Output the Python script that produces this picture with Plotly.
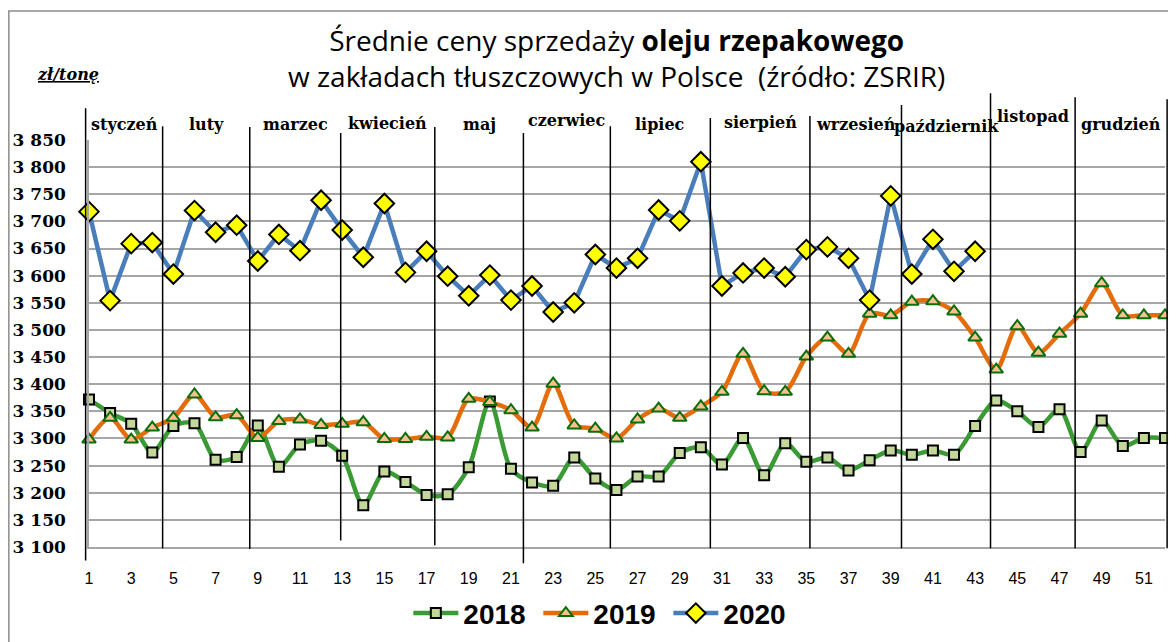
import plotly.graph_objects as go

# ---------------- data ----------------
weeks = list(range(1, 53))
weeks_2020 = list(range(1, 44))

prices_2018 = [3372, 3347, 3327, 3274, 3323, 3328, 3261, 3266, 3324, 3248,
               3289, 3296, 3268, 3177, 3239, 3220, 3196, 3197, 3247, 3368,
               3244, 3219, 3213, 3265, 3226, 3205, 3230, 3230, 3273, 3284,
               3252, 3301, 3232, 3291, 3257, 3265, 3241, 3260, 3278, 3270,
               3278, 3270, 3323, 3370, 3350, 3321, 3354, 3275, 3333, 3286,
               3301, 3301]

prices_2019 = [3298, 3338, 3298, 3320, 3338, 3381, 3339, 3343, 3301, 3332,
               3335, 3325, 3327, 3330, 3299, 3299, 3303, 3302, 3373, 3367,
               3352, 3320, 3401, 3324, 3318, 3300, 3335, 3355, 3338, 3359,
               3386, 3456, 3387, 3386, 3451, 3486, 3456, 3530, 3527, 3552,
               3553, 3534, 3486, 3427, 3507, 3458, 3493, 3530, 3586, 3527,
               3527, 3527]

prices_2020 = [3718, 3554, 3659, 3661, 3603, 3720, 3680, 3693, 3627, 3676,
               3646, 3739, 3684, 3634, 3733, 3606, 3645, 3599, 3563, 3601,
               3555, 3581, 3533, 3550, 3639, 3614, 3632, 3721, 3701, 3810,
               3581, 3605, 3614, 3598, 3648, 3653, 3632, 3555, 3747, 3603,
               3667, 3608, 3645]

series_names = ["2018", "2019", "2020"]

y_tick_values = [3100, 3150, 3200, 3250, 3300, 3350, 3400, 3450,
                 3500, 3550, 3600, 3650, 3700, 3750, 3800, 3850]
y_tick_labels = ["3 100", "3 150", "3 200", "3 250", "3 300", "3 350", "3 400", "3 450",
                 "3 500", "3 550", "3 600", "3 650", "3 700", "3 750", "3 800", "3 850"]
x_tick_values = list(range(1, 52, 2))

months = ["styczeń", "luty", "marzec", "kwiecień", "maj", "czerwiec", "lipiec",
          "sierpień", "wrzesień", "październik", "listopad", "grudzień"]
# month boundaries, in week units
month_bounds = [0.84, 4.49, 8.62, 12.93, 17.39, 21.59, 25.71, 30.45, 35.17,
                39.51, 43.73, 47.74, 52.10]

# ---------------- styling ----------------
X_MIN, X_MAX = 1, 52
Y_MIN, Y_MAX = 3100, 3850
divider_top = [1.078, 1.034, 1.032, 1.017, 1.032, 1.017, 1.034, 1.054, 1.059, 1.086, 1.115, 1.105, 1.100]
divider_bot = [-0.033, -0.003, -0.005, 0.016, 0.004, -0.040, -0.003, -0.003, -0.003, -0.003, -0.003, -0.003, -0.003]
label_y = [1.039, 1.039, 1.039, 1.041, 1.039, 1.049, 1.039, 1.044, 1.039, 1.034, 1.057, 1.039]

SERIF = "DejaVu Serif"
SANS = "Liberation Sans"

fig = go.Figure()

fig.add_trace(go.Scatter(
    x=weeks, y=prices_2018, name=series_names[0], mode="lines+markers",
    line=dict(color="#3a9a33", width=4.5, shape="spline", smoothing=0.8),
    marker=dict(symbol="square", size=10, color="#c4d79b",
                line=dict(color="#000000", width=2)),
    cliponaxis=False,
))
fig.add_trace(go.Scatter(
    x=weeks, y=prices_2019, name=series_names[1], mode="lines+markers",
    line=dict(color="#e46c0a", width=4.5, shape="spline", smoothing=0.8),
    marker=dict(symbol="triangle-up", size=12, color="#fac090",
                line=dict(color="#0a6e0a", width=2)),
    cliponaxis=False,
))
fig.add_trace(go.Scatter(
    x=weeks_2020, y=prices_2020, name=series_names[2], mode="lines+markers",
    line=dict(color="#4a7ebb", width=4.5),
    marker=dict(symbol="diamond", size=15, color="#ffff00",
                line=dict(color="#000000", width=2)),
    cliponaxis=False,
))

shapes = []
annotations = []


def xp(w):
    return (w - X_MIN) / (X_MAX - X_MIN)


for i, b in enumerate(month_bounds):
    shapes.append(dict(type="line", xref="paper", yref="paper",
                       x0=xp(b), x1=xp(b), y0=divider_bot[i], y1=divider_top[i],
                       line=dict(color="#000000", width=1.5), layer="above"))

for i, m in enumerate(months):
    mid = (month_bounds[i] + month_bounds[i + 1]) / 2
    annotations.append(dict(text=m, xref="paper", yref="paper",
                            x=xp(mid), y=label_y[i], showarrow=False,
                            xanchor="center", yanchor="middle",
                            font=dict(family=SERIF, size=16, color="#000000", weight="bold")))

# outer chart border
shapes.append(dict(type="rect", xref="paper", yref="paper",
                   x0=-0.0745, x1=1.03, y0=-0.26, y1=1.317,
                   line=dict(color="#8c8c8c", width=1.5), fillcolor="rgba(0,0,0,0)"))

# title
annotations.append(dict(
    text="Średnie ceny sprzedaży <b>oleju rzepakowego</b><br>w zakładach tłuszczowych w Polsce  (źródło: ZSRIR)",
    xref="paper", yref="paper", x=0.4906, y=1.2004, showarrow=False,
    xanchor="center", yanchor="middle", align="center",
    font=dict(family="Open Sans", size=28, color="#000000")))

# unit label
annotations.append(dict(
    text="<b><i><u>zł/tonę</u></i></b>", xref="paper", yref="paper",
    x=-0.0505, y=1.16, showarrow=False, xanchor="left", yanchor="middle",
    font=dict(family="DejaVu Serif", size=16, color="#000000")))

# the page adds an 8 px body margin, so the figure is 8 px smaller on each axis
fig.update_layout(
    width=1168, height=634,
    margin=dict(l=81, r=11, t=132, b=95, autoexpand=False),
    paper_bgcolor="#ffffff", plot_bgcolor="#ffffff",
    shapes=shapes, annotations=annotations,
    showlegend=True,
    legend=dict(orientation="h", x=0.478, y=-0.163, xanchor="center", yanchor="middle",
                font=dict(family=SANS, size=28, color="#000000", weight="bold"),
                itemwidth=45, entrywidth=70, bgcolor="rgba(0,0,0,0)", traceorder="normal"),
)

fig.update_xaxes(
    range=[X_MIN, X_MAX], tickmode="array", tickvals=x_tick_values,
    showgrid=False, zeroline=False, showline=True, linecolor="#a6a6a6", linewidth=1.5,
    ticks="outside", ticklen=16, tickcolor="rgba(0,0,0,0)",
    tickfont=dict(family=SANS, size=16, color="#000000"),
)
fig.update_yaxes(
    range=[Y_MIN, Y_MAX], tickmode="array", tickvals=y_tick_values, ticktext=y_tick_labels,
    showgrid=True, gridcolor="#a6a6a6", gridwidth=1.5,
    zeroline=False, showline=True, linecolor="#a6a6a6", linewidth=1.5,
    ticks="outside", ticklen=18, tickcolor="rgba(0,0,0,0)",
    tickfont=dict(family=SERIF, size=17, color="#000000", weight="bold"),
)

fig.write_html("out.html")
